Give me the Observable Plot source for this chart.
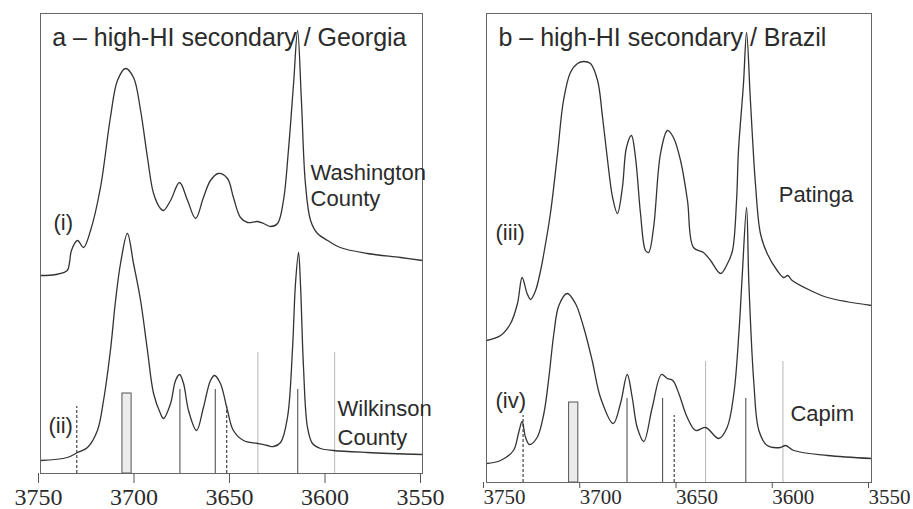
<!DOCTYPE html>
<html><head><meta charset="utf-8">
<script src="https://cdn.jsdelivr.net/npm/d3@7"></script>
<script src="https://cdn.jsdelivr.net/npm/@observablehq/plot@0.6"></script>
<style>
body{margin:0;background:#fff;}
#wrap{display:flex;width:913px;height:509px;overflow:hidden;background:#fff;}
#wrap svg{display:block;flex:none;}
</style></head><body><div id="wrap"></div>
<script>
// Wavenumber (cm-1) and offset absorbance (arbitrary units)
// (i) Washington County
const waveI = [3750, 3742, 3736, 3734.8, 3733.8, 3730.6, 3727.5, 3723.8, 3718.6, 3713.4, 3709.7, 3705.5, 3701.3, 3697.6, 3694.0, 3690.8, 3687.2, 3685.6, 3681.9, 3677.2, 3673.0, 3668.8, 3664.7, 3661.0, 3656.8, 3652.1, 3649.0, 3645.3, 3641.6, 3636.4, 3633.2, 3629.6, 3625.9, 3622.8, 3620.2, 3617.5, 3615.4, 3613.4, 3611.3, 3608.6, 3605.0, 3599.7, 3593.1, 3578.8, 3561.5, 3550];
const absI  = [1.98, 1.99, 2.03, 2.11, 2.23, 2.33, 2.26, 2.43, 2.86, 3.56, 3.93, 4.05, 3.96, 3.63, 3.16, 2.80, 2.65, 2.63, 2.73, 2.91, 2.73, 2.55, 2.76, 2.93, 3.00, 2.95, 2.76, 2.56, 2.51, 2.52, 2.50, 2.47, 2.50, 2.73, 3.23, 3.90, 4.43, 3.73, 2.90, 2.53, 2.40, 2.33, 2.26, 2.20, 2.16, 2.13];
// (ii) Wilkinson County
const waveII = [3750, 3736, 3730.6, 3725.4, 3720.2, 3717.0, 3713.4, 3710.7, 3708.1, 3704.5, 3701.3, 3697.6, 3694.0, 3690.8, 3687.2, 3685.6, 3681.9, 3679.3, 3677.2, 3675.1, 3672.5, 3668.3, 3664.7, 3661.0, 3658.9, 3655.8, 3652.1, 3649.0, 3643.7, 3636.4, 3631.2, 3628.0, 3624.3, 3620.7, 3618.1, 3616.5, 3614.9, 3613.9, 3612.3, 3610.2, 3607.6, 3603.4, 3596.6, 3578.8, 3550];
const absII  = [0.13, 0.16, 0.21, 0.26, 0.43, 0.73, 1.23, 1.73, 2.10, 2.40, 2.10, 1.73, 1.23, 0.80, 0.60, 0.55, 0.70, 0.93, 0.99, 0.90, 0.63, 0.43, 0.66, 0.93, 0.98, 0.90, 0.63, 0.43, 0.33, 0.30, 0.28, 0.27, 0.31, 0.56, 1.23, 1.90, 2.21, 1.90, 1.06, 0.46, 0.30, 0.25, 0.23, 0.21, 0.19];
// (iii) Patinga
const waveIII = [3750, 3742.7, 3737.5, 3733.9, 3731.5, 3728.9, 3727.1, 3724.5, 3721.9, 3720.4, 3716.8, 3713.1, 3710.0, 3706.4, 3702.7, 3699.6, 3696.0, 3692.3, 3689.7, 3687.1, 3684.5, 3682.0, 3679.4, 3677.3, 3674.7, 3672.6, 3670.0, 3667.4, 3665.8, 3663.2, 3659.6, 3656.0, 3652.9, 3649.2, 3645.6, 3642.5, 3637.3, 3633.6, 3628.4, 3624.8, 3622.2, 3620.1, 3619.1, 3616.5, 3614.9, 3612.9, 3610.3, 3607.7, 3604.2, 3599.0, 3595.6, 3593.5, 3591.2, 3581.7, 3572.9, 3550];
const absIII  = [1.42, 1.47, 1.59, 1.79, 2.05, 1.89, 1.83, 1.92, 2.12, 2.27, 2.69, 3.29, 3.82, 4.10, 4.19, 4.21, 4.19, 4.02, 3.65, 3.22, 2.85, 2.69, 2.95, 3.35, 3.47, 3.25, 2.69, 2.32, 2.30, 2.55, 3.29, 3.52, 3.45, 3.22, 2.82, 2.35, 2.30, 2.22, 2.09, 2.19, 2.32, 2.82, 3.32, 3.99, 4.50, 3.82, 2.99, 2.49, 2.29, 2.12, 2.05, 2.07, 2.02, 1.92, 1.85, 1.77];
// (iv) Capim
const waveIV = [3750, 3742.7, 3736.0, 3733.4, 3731.5, 3729.7, 3727.7, 3723.7, 3720.2, 3717.6, 3715.0, 3712.4, 3708.1, 3703.8, 3699.5, 3695.1, 3690.8, 3684.2, 3680.4, 3676.9, 3674.3, 3671.7, 3668.3, 3663.9, 3659.1, 3656.1, 3653.2, 3650.1, 3645.7, 3641.4, 3636.2, 3629.3, 3625.0, 3621.5, 3618.9, 3617.2, 3614.9, 3613.7, 3611.1, 3608.5, 3604.2, 3597.3, 3594.7, 3590.4, 3573.0, 3550];
const absIV  = [0.19, 0.22, 0.32, 0.49, 0.61, 0.45, 0.38, 0.45, 0.69, 1.05, 1.49, 1.77, 1.89, 1.79, 1.55, 1.22, 0.85, 0.59, 0.79, 1.08, 0.85, 0.55, 0.41, 0.75, 1.08, 1.04, 1.02, 0.89, 0.65, 0.52, 0.55, 0.44, 0.55, 0.89, 1.49, 2.05, 2.75, 1.99, 0.99, 0.52, 0.37, 0.35, 0.37, 0.32, 0.27, 0.24];

// Reference band positions (cm-1) and marker heights
const solidBands = [3677, 3658.5, 3615.3];
const dashedBands = [3731, 3652.5];
const greyBands = [3636.2, 3596];
const barBand = [3707.1, 3702.3];
const solidHeight = 0.84, dashedHeight = 0.67, greyHeight = 1.21, barHeight = 0.80;

const xTicks = [3750, 3700, 3650, 3600, 3550];

// Titles and labels
const titleA = "a – high-HI secondary / Georgia";
const titleB = "b – high-HI secondary / Brazil";
const labelsA = [
  {w: 3743.2, a: 2.51, t: "(i)"},
  {w: 3745.8, a: 0.48, t: "(ii)"},
  {w: 3608.6, a: 3.01, t: "Washington"},
  {w: 3608.6, a: 2.75, t: "County"},
  {w: 3594.5, a: 0.65, t: "Wilkinson"},
  {w: 3594.5, a: 0.36, t: "County"}
];
const labelsB = [
  {w: 3745.3, a: 2.50, t: "(iii)"},
  {w: 3745.3, a: 0.82, t: "(iv)"},
  {w: 3598.2, a: 2.88, t: "Patinga"},
  {w: 3592.1, a: 0.69, t: "Capim"}
];
const titlePosA = {w: 3743.9, a: 4.36};
const titlePosB = {w: 3743.8, a: 4.45};

const rows = (ws, as) => ws.map((w, i) => ({w, a: as[i]}));

function panel(o) {
  const ink = "#2b2b2b";
  return Plot.plot({
    width: o.width, height: 509,
    marginLeft: o.mL, marginRight: o.mR, marginTop: 13, marginBottom: o.mB,
    style: {fontFamily: "'Liberation Sans', Arial, sans-serif", background: "#fff", color: ink, overflow: "visible"},
    x: {domain: [3750, 3550], label: null},
    y: {domain: [0, o.yMax], axis: null},
    marks: [
      Plot.rect([barBand], {x1: d => d[0], x2: d => d[1], y1: 0, y2: barHeight, fill: "#ececec", stroke: "#555", strokeWidth: 1}),
      Plot.ruleX(greyBands, {x: d => d, y1: 0, y2: greyHeight, stroke: "#b0b0b0", strokeWidth: 0.9}),
      Plot.ruleX(solidBands, {x: d => d, y1: 0, y2: solidHeight, stroke: "#444", strokeWidth: 1}),
      Plot.ruleX(dashedBands, {x: d => d, y1: 0, y2: dashedHeight, stroke: "#333", strokeWidth: 1.1, strokeDasharray: "3,2"}),
      ...o.traces.map(t => Plot.line(t, {x: "w", y: "a", stroke: "#333", strokeWidth: 1.3, curve: "catmull-rom"})),
      Plot.frame({stroke: "#666", strokeWidth: 1}),
      Plot.axisX({ticks: xTicks, tickFormat: d => String(d), tickSize: o.tickSize, tickPadding: o.tickPadding, label: null,
        fontFamily: "'Liberation Serif', 'Times New Roman', serif", fontSize: o.tickFont, textAnchor: o.anchor, dx: o.dx, stroke: "#555"}),
      Plot.text([o.titlePos], {x: "w", y: "a", text: () => o.title, textAnchor: "start", lineAnchor: "middle", fontSize: 25, fill: ink}),
      Plot.text(o.labels, {x: "w", y: "a", text: "t", textAnchor: "start", lineAnchor: "middle", fontSize: 22, fill: ink})
    ]
  });
}

const wrap = document.getElementById("wrap");
wrap.append(panel({
  width: 460, mL: 40, mR: 38, mB: 36, yMax: 4.6,
  traces: [rows(waveI, absI), rows(waveII, absII)],
  tickSize: 10, tickPadding: 4, tickFont: 24, anchor: "middle", dx: -2,
  title: titleA, titlePos: titlePosA, labels: labelsA
}));
wrap.append(panel({
  width: 453, mL: 26, mR: 42, mB: 27, yMax: 4.69,
  traces: [rows(waveIII, absIII), rows(waveIV, absIV)],
  tickSize: 6, tickPadding: 1, tickFont: 21, anchor: "start", dx: -3,
  title: titleB, titlePos: titlePosB, labels: labelsB
}));
</script>
</body></html>
